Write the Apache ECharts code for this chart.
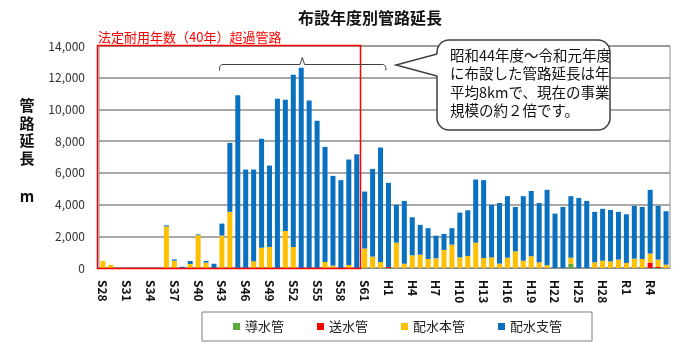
<!DOCTYPE html>
<html lang="ja">
<head>
<meta charset="utf-8">
<title>布設年度別管路延長</title>
<script src="https://cdn.jsdelivr.net/npm/echarts@6/dist/echarts.min.js"></script>
<style>
  html, body { margin: 0; padding: 0; background: #fff; }
  #chart { width: 700px; height: 353px; }
</style>
</head>
<body>
<div id="chart"></div>
<script>
// 年度（昭和28年度〜令和6年度）
const categories = [
  'S28', 'S29', 'S30', 'S31', 'S32', 'S33', 'S34', 'S35', 'S36', 'S37', 'S38', 'S39',
  'S40', 'S41', 'S42', 'S43', 'S44', 'S45', 'S46', 'S47', 'S48', 'S49', 'S50', 'S51',
  'S52', 'S53', 'S54', 'S55', 'S56', 'S57', 'S58', 'S59', 'S60', 'S61', 'S62', 'S63',
  'H1', 'H2', 'H3', 'H4', 'H5', 'H6', 'H7', 'H8', 'H9', 'H10', 'H11', 'H12',
  'H13', 'H14', 'H15', 'H16', 'H17', 'H18', 'H19', 'H20', 'H21', 'H22', 'H23', 'H24',
  'H25', 'H26', 'H27', 'H28', 'H29', 'H30', 'R1', 'R2', 'R3', 'R4', 'R5', 'R6',
]

// 導水管 (m)
const intake = [
  0, 0, 0, 0, 0, 0, 0, 0, 0, 0, 0, 0,
  0, 0, 0, 0, 0, 0, 0, 0, 0, 0, 0, 0,
  0, 0, 0, 0, 0, 0, 0, 0, 0, 0, 0, 0,
  0, 0, 0, 0, 0, 0, 0, 0, 0, 0, 0, 0,
  0, 0, 0, 0, 0, 0, 0, 0, 0, 0, 0, 270,
  0, 0, 0, 0, 0, 0, 0, 0, 0, 0, 0, 0,
]

// 送水管 (m)
const transmission = [
  0, 0, 0, 0, 0, 0, 0, 0, 0, 0, 0, 0,
  0, 0, 0, 0, 0, 0, 0, 0, 0, 0, 0, 0,
  0, 0, 0, 0, 0, 0, 0, 0, 0, 0, 0, 0,
  60, 0, 0, 0, 0, 0, 0, 0, 0, 0, 0, 0,
  0, 0, 0, 0, 0, 0, 0, 0, 0, 0, 0, 0,
  0, 0, 0, 0, 0, 0, 0, 0, 0, 340, 60, 0,
]

// 配水本管 (m)
const mainPipe = [
  450, 200, 0, 0, 0, 0, 0, 0, 2620, 460, 0, 250,
  2070, 340, 0, 2050, 3540, 0, 0, 420, 1280, 1330, 0, 2340,
  1330, 0, 0, 0, 380, 150, 0, 190, 0, 1230, 720, 380,
  0, 1600, 270, 800, 840, 570, 610, 1140, 1470, 670, 760, 1600,
  630, 670, 280, 650, 1050, 460, 740, 360, 170, 0, 0, 380,
  0, 0, 360, 460, 420, 530, 320, 590, 570, 570, 470, 210,
]

// 配水支管 (m)
const branchPipe = [
  0, 0, 0, 0, 0, 0, 0, 0, 70, 80, 80, 190,
  50, 100, 270, 750, 4350, 10900, 6210, 5790, 6870, 5130, 10670, 8270,
  10860, 12630, 10570, 9280, 7260, 5660, 5540, 6650, 7170, 3590, 5530, 7220,
  5310, 2380, 3960, 2400, 1880, 1940, 1430, 1010, 1040, 2820, 2880, 3980,
  4910, 3310, 3820, 3880, 2800, 4070, 4120, 3740, 4760, 3430, 3850, 3880,
  4420, 4230, 3180, 3270, 3240, 3010, 3070, 3330, 3280, 4020, 3390, 3370,
]

const seriesNames = ['導水管', '送水管', '配水本管', '配水支管']
const seriesColors = ['#5bab3a', '#ff0000', '#ffc000', '#0a70c0']

const FONT = '"Noto Sans CJK JP", "Noto Sans", sans-serif'

const chart = echarts.init(document.getElementById('chart'))

function makeSeries(name, data, color) {
  return {
    name,
    type: 'bar',
    stack: 'total',
    data,
    barWidth: 5,
    itemStyle: { color },
  }
}

const option = {
  animation: false,
  textStyle: { fontFamily: FONT },
  grid: {
    left: 99,
    right: 30,
    top: 46,
    bottom: 85,
    show: true,
    borderColor: '#8c8c8c',
    borderWidth: 1,
  },
  legend: {
    data: seriesNames,
    left: 202,
    top: 312,
    padding: [8, 30, 8, 31],
    borderColor: '#7f7f7f',
    borderWidth: 1,
    itemGap: 33,
    itemWidth: 7,
    itemHeight: 7,
    icon: 'rect',
    textStyle: { fontSize: 13, color: '#222', fontFamily: FONT },
  },
  xAxis: {
    type: 'category',
    data: categories,
    axisLine: { lineStyle: { color: '#8c8c8c' } },
    axisTick: { show: false },
    axisLabel: {
      interval: 2,
      rotate: -90,
      margin: 12,
      fontSize: 12,
      fontWeight: 'bold',
      color: '#111',
      fontFamily: FONT,
    },
  },
  yAxis: {
    type: 'value',
    min: 0,
    max: 14000,
    interval: 2000,
    axisLine: { show: false },
    axisTick: { show: false },
    axisLabel: {
      margin: 14,
      fontSize: 12,
      color: '#333',
      fontFamily: FONT,
      formatter: v => v.toLocaleString('en-US'),
    },
    splitLine: { lineStyle: { color: '#8c8c8c', width: 1.5 } },
  },
  series: [
    makeSeries(seriesNames[0], intake, seriesColors[0]),
    makeSeries(seriesNames[1], transmission, seriesColors[1]),
    makeSeries(seriesNames[2], mainPipe, seriesColors[2]),
    makeSeries(seriesNames[3], branchPipe, seriesColors[3]),
  ],
  graphic: [
    // タイトル
    {
      type: 'text',
      x: 370,
      y: 18,
      style: {
        text: '布設年度別管路延長',
        font: `bold 16px ${FONT}`,
        fill: '#111',
        textAlign: 'center',
        textVerticalAlign: 'middle',
      },
    },
    // 縦軸タイトル
    {
      type: 'text',
      x: 27,
      y: 97,
      style: {
        text: '管\n路\n延\n長',
        font: `bold 15px ${FONT}`,
        lineHeight: 17.5,
        fill: '#111',
        textAlign: 'center',
      },
    },
    {
      type: 'text',
      x: 27,
      y: 189,
      style: {
        text: 'm',
        font: `bold 15px ${FONT}`,
        fill: '#111',
        textAlign: 'center',
      },
    },
    // 法定耐用年数超過の枠
    {
      type: 'rect',
      z: 100,
      shape: { x: 97.5, y: 45.5, width: 263, height: 223 },
      style: { fill: 'none', stroke: '#ff0000', lineWidth: 1.5 },
    },
    {
      type: 'text',
      z: 100,
      x: 98,
      y: 37,
      style: {
        text: '法定耐用年数（40年）超過管路',
        font: `13px ${FONT}`,
        fill: '#ff0000',
        textVerticalAlign: 'middle',
      },
    },
    // 括弧
    {
      type: 'polyline',
      z: 100,
      shape: {
        points: [
          [219.5, 70.5], [219.8, 66.5], [222, 64.5], [300, 64.5], [302.3, 57.5],
          [304.6, 64.5], [383.5, 64.5], [385.7, 66.5], [386, 70.5],
        ],
      },
      style: { fill: 'none', stroke: '#404040', lineWidth: 1 },
    },
    // 吹き出し（角丸の枠 + 尖り）
    {
      type: 'rect',
      z: 100,
      shape: { x: 437, y: 40, width: 173, height: 90, r: 12 },
      style: { fill: '#fff', stroke: '#404040', lineWidth: 1.5 },
    },
    {
      type: 'polygon',
      z: 101,
      shape: { points: [[438.5, 54], [396, 65], [438.5, 76]] },
      style: { fill: '#fff', stroke: 'none' },
    },
    {
      type: 'polyline',
      z: 102,
      shape: { points: [[437, 54], [396, 65], [437, 76]] },
      style: { fill: 'none', stroke: '#404040', lineWidth: 1.5 },
    },
    {
      type: 'text',
      z: 103,
      x: 450,
      y: 46,
      style: {
        text: '昭和44年度～令和元年度\nに布設した管路延長は年\n平均8kmで、現在の事業\n規模の約２倍です。',
        font: `14.5px ${FONT}`,
        lineHeight: 18.5,
        fill: '#111',
      },
    },
  ],
}

chart.setOption(option)
</script>
</body>
</html>
